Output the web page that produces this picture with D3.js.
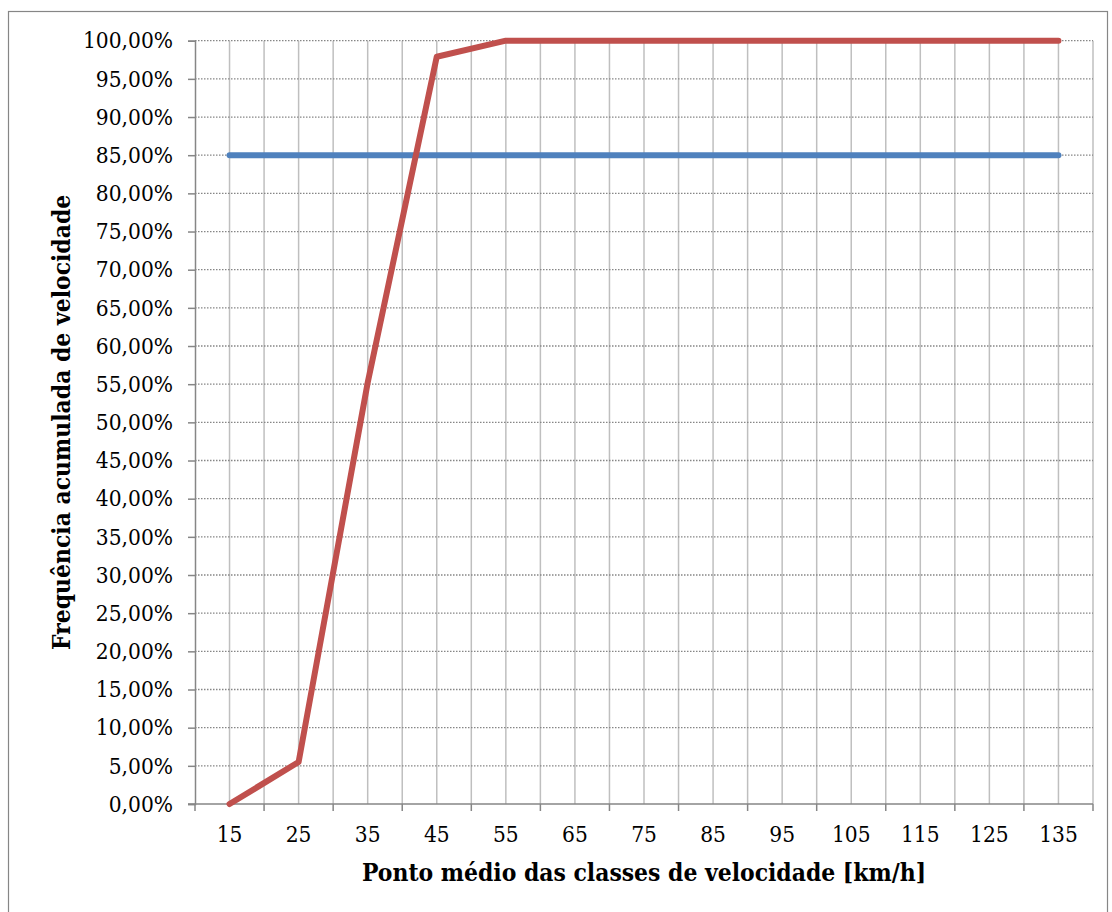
<!DOCTYPE html>
<html><head><meta charset="utf-8">
<script src="https://cdn.jsdelivr.net/npm/d3@7"></script>
<style>
body{margin:0;background:#fff;}
text{font-family:'DejaVu Serif Condensed','DejaVu Serif',serif;font-stretch:condensed;fill:#000;}
</style></head><body>
<svg id="c" width="1112" height="912"></svg>
<script>
const categories = [15,25,35,45,55,65,75,85,95,105,115,125,135];
const cumulativeFreq = [0, 0.055, 0.552, 0.979, 1, 1, 1, 1, 1, 1, 1, 1, 1];
const percentile85 = [0.85,0.85,0.85,0.85,0.85,0.85,0.85,0.85,0.85,0.85,0.85,0.85,0.85];
const yTicks = [0,0.05,0.10,0.15,0.20,0.25,0.30,0.35,0.40,0.45,0.50,0.55,0.60,0.65,0.70,0.75,0.80,0.85,0.90,0.95,1.00];
const xTitle = "Ponto médio das classes de velocidade [km/h]";
const yTitle = "Frequência acumulada de velocidade";

const svg = d3.select("#c");
const L=195, R=1093, T=40.7, B=804;
svg.append("rect").attr("x",8.5).attr("y",11.5).attr("width",1099).attr("height",920)
  .attr("fill","#fff").attr("stroke","#868686").attr("stroke-width",1.2);

const x = d3.scaleBand().domain(categories).range([L,R]).paddingInner(0).paddingOuter(0);
const y = d3.scaleLinear().domain([0,1]).range([B,T]);
const bw = x.bandwidth();

// vertical grid lines at centers and boundaries
const vg = svg.append("g");
categories.forEach((c,i)=>{
  const x0 = x(c);
  const xs = [x0+bw/2, x0+bw];
  xs.forEach(xx=>{
    vg.append("line").attr("x1",xx).attr("x2",xx).attr("y1",T).attr("y2",B)
      .attr("stroke","#bfbfbf").attr("stroke-width",1.5);
  });
});
// horizontal dotted grid
svg.append("g").selectAll("line").data(yTicks.slice(1)).join("line")
  .attr("x1",L).attr("x2",R).attr("y1",d=>y(d)).attr("y2",d=>y(d))
  .attr("stroke","#868686").attr("stroke-width",1.3).attr("stroke-dasharray","1.5,1.5");

// y axis
const fmt = d=> d3.format(".2f")(d*100).replace(".",",")+"%";
const yAxis = d3.axisLeft(y).tickValues(yTicks).tickFormat(fmt).tickSize(7).tickPadding(15);
const gy = svg.append("g").attr("transform",`translate(${L},0)`).call(yAxis);
gy.select(".domain").attr("stroke","#868686").attr("stroke-width",1.5);
gy.selectAll(".tick line").attr("stroke","#868686").attr("stroke-width",1.5);
gy.selectAll(".tick text").attr("font-size",22.5).style("font-family","'DejaVu Serif Condensed','DejaVu Serif',serif");

// x axis
const xAxis = d3.axisBottom(x).tickSize(0).tickPadding(22);
const gx = svg.append("g").attr("transform",`translate(0,${B})`).call(xAxis);
gx.select(".domain").remove();
gx.selectAll(".tick text").attr("font-size",22.5).style("font-family","'DejaVu Serif Condensed','DejaVu Serif',serif");
svg.append("line").attr("x1",L-7).attr("x2",R).attr("y1",B).attr("y2",B).attr("stroke","#868686").attr("stroke-width",1.5);
const bounds = categories.map(c=>x(c)+bw);
svg.append("g").selectAll("line").data(bounds).join("line")
  .attr("x1",d=>d).attr("x2",d=>d).attr("y1",B).attr("y2",B+7).attr("stroke","#868686").attr("stroke-width",1.5);
svg.append("line").attr("x1",L).attr("x2",L).attr("y1",B).attr("y2",B+7).attr("stroke","#868686").attr("stroke-width",1.5);

// lines
const line = d3.line().x((d,i)=>x(categories[i])+bw/2).y(d=>y(d));
svg.append("path").datum(percentile85).attr("d",line).attr("fill","none")
  .attr("stroke","#4F81BD").attr("stroke-width",6).attr("stroke-linejoin","round").attr("stroke-linecap","round");
svg.append("path").datum(cumulativeFreq).attr("d",line).attr("fill","none")
  .attr("stroke","#C0504D").attr("stroke-width",6).attr("stroke-linejoin","round").attr("stroke-linecap","round");

// titles
svg.append("text").attr("x",(L+R)/2).attr("y",881).attr("text-anchor","middle")
  .attr("font-size",24.4).attr("font-weight","bold").text(xTitle);
svg.append("text").attr("transform",`translate(70,${(T+B)/2}) rotate(-90)`).attr("text-anchor","middle")
  .attr("font-size",24.4).attr("font-weight","bold").text(yTitle);
</script></body></html>
